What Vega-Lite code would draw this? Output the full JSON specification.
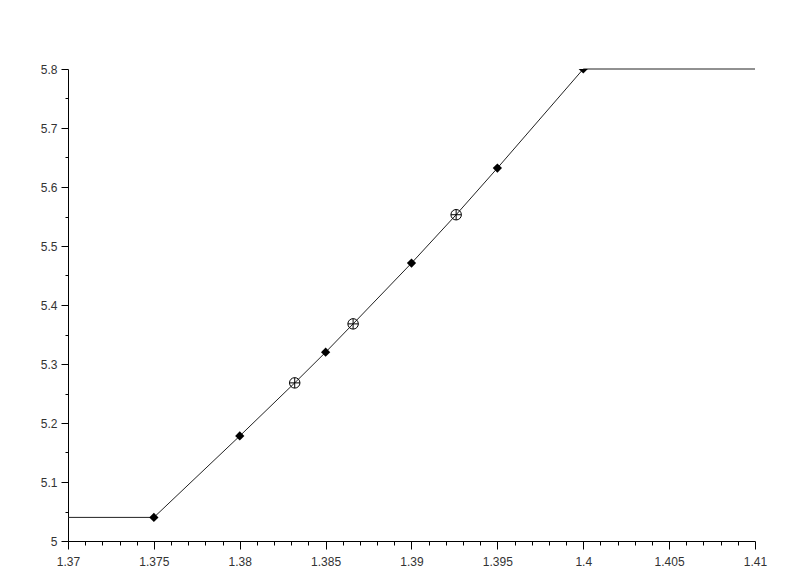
{
  "$schema": "https://vega.github.io/schema/vega-lite/v6.json",
  "width": 687,
  "height": 472,
  "autosize": "none",
  "padding": {"left": 68, "top": 69, "right": 46, "bottom": 43},
  "background": "white",
  "config": {
    "view": {"stroke": null},
    "axis": {
      "grid": false,
      "domainColor": "#000000",
      "domainWidth": 1,
      "tickColor": "#000000",
      "tickWidth": 1,
      "labelFont": "Liberation Sans",
      "labelFontSize": 12,
      "labelColor": "#333333",
      "title": null
    }
  },
  "data": {
    "values": [
      {"x": 1.37, "y": 5.04, "kind": "line"},
      {"x": 1.375, "y": 5.04, "kind": "diamond"},
      {"x": 1.38, "y": 5.178, "kind": "diamond"},
      {"x": 1.3832, "y": 5.268, "kind": "circleplus"},
      {"x": 1.385, "y": 5.32, "kind": "diamond"},
      {"x": 1.3866, "y": 5.368, "kind": "circleplus"},
      {"x": 1.39, "y": 5.471, "kind": "diamond"},
      {"x": 1.3926, "y": 5.553, "kind": "circleplus"},
      {"x": 1.395, "y": 5.632, "kind": "diamond"},
      {"x": 1.4, "y": 5.8, "kind": "diamond"},
      {"x": 1.41, "y": 5.8, "kind": "line"}
    ]
  },
  "encoding": {
    "x": {
      "field": "x",
      "type": "quantitative",
      "scale": {"domain": [1.37, 1.41], "nice": false, "zero": false},
      "axis": {
        "values": [1.37, 1.371, 1.372, 1.373, 1.374, 1.375, 1.376, 1.377, 1.378, 1.379, 1.38, 1.381, 1.382, 1.383, 1.384, 1.385, 1.386, 1.387, 1.388, 1.389, 1.39, 1.391, 1.392, 1.393, 1.394, 1.395, 1.396, 1.397, 1.398, 1.399, 1.4, 1.401, 1.402, 1.403, 1.404, 1.405, 1.406, 1.407, 1.408, 1.409, 1.41],
        "labelExpr": "round(datum.value*1000) % 5 == 0 ? format(datum.value, '~g') : ''",
        "tickSize": {"condition": {"test": "round(datum.value*1000) % 5 == 0", "value": 8}, "value": 4},
        "labelPadding": 7,
        "labelOverlap": false,
        "labelFlush": false
      }
    },
    "y": {
      "field": "y",
      "type": "quantitative",
      "scale": {"domain": [5, 5.8], "nice": false, "zero": false},
      "axis": {
        "values": [5, 5.05, 5.1, 5.15, 5.2, 5.25, 5.3, 5.35, 5.4, 5.45, 5.5, 5.55, 5.6, 5.65, 5.7, 5.75, 5.8],
        "labelExpr": "round(datum.value*100) % 10 == 0 ? format(datum.value, '~g') : ''",
        "tickSize": {"condition": {"test": "round(datum.value*100) % 10 == 0", "value": 7}, "value": 3},
        "labelPadding": 4,
        "labelOverlap": false,
        "labelFlush": false
      }
    }
  },
  "layer": [
    {
      "mark": {"type": "line", "color": "#222222", "strokeWidth": 1, "clip": false},
      "encoding": {"order": {"field": "x", "type": "quantitative"}}
    },
    {
      "transform": [{"filter": "datum.kind == 'diamond'"}],
      "mark": {"type": "point", "shape": "diamond", "filled": true, "color": "#000000", "opacity": 1, "size": 85, "clip": true}
    },
    {
      "transform": [{"filter": "datum.kind == 'circleplus'"}],
      "mark": {"type": "point", "shape": "M-1,0A1,1 0 1,1 1,0A1,1 0 1,1 -1,0M-1,0L1,0M0,-1L0,1", "filled": false, "stroke": "#000000", "strokeWidth": 1, "opacity": 1, "size": 110}
    }
  ]
}
